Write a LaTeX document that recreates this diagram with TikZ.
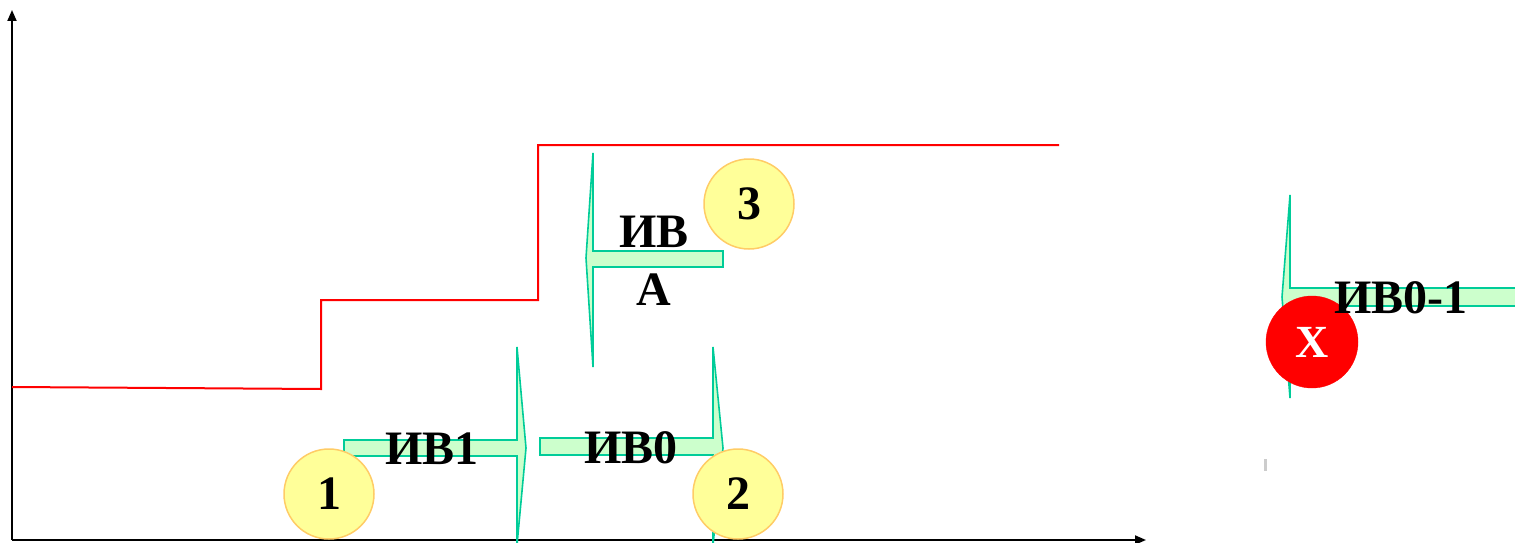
\documentclass[tikz,border=0pt]{standalone}
\usepackage{fontspec}
\setmainfont{Liberation Serif}
\usetikzlibrary{arrows.meta}
\definecolor{arrfill}{HTML}{CCFFCC}
\definecolor{arrline}{HTML}{00CC99}
\definecolor{circfill}{HTML}{FFFF99}
\definecolor{circline}{HTML}{FFCC66}
\definecolor{stepred}{HTML}{FF0000}
\tikzset{
  axisline/.style={line width=2pt,-{Triangle[length=11pt,width=9pt]}},
  redline/.style={draw=stepred,line width=2pt},
  blockarrow/.style={fill=arrfill,draw=arrline,line width=1.6pt,line join=miter},
  lbl/.style={font=\fontsize{48}{50}\selectfont\bfseries,inner sep=0pt},
  numcirc/.style={circle,fill=circfill,draw=circline,line width=1.5pt,minimum size=90pt,inner sep=0pt,font=\fontsize{48}{50}\selectfont\bfseries},
  xcirc/.style={circle,fill=stepred,draw=stepred,minimum size=92pt,inner sep=0pt,text=white,font=\fontsize{46}{50}\selectfont\bfseries}
}
\begin{document}
\begin{tikzpicture}[x=1pt,y=-1pt]
\useasboundingbox (0,0) rectangle (1515,543);
\clip (0,0) rectangle (1515,543);
% axes
\coordinate (o) at (12,540);
\coordinate (ytip) at (12,10);
\coordinate (xtip) at (1146,540);
\draw[axisline] (o) -- (ytip);
\draw[axisline] (o) -- (xtip);
% red step line
\draw[redline] (12,387) -- (321,389) -- (321,300) -- (538,300) -- (538,145) -- (1059,145);
% block arrows
\draw[blockarrow] (344,440) -- (517,440) -- (517,347) -- (526,448) -- (517,545) -- (517,456) -- (344,456) -- cycle;
\draw[blockarrow] (540,438) -- (713,438) -- (713,347) -- (723,448) -- (713,545) -- (713,455) -- (540,455) -- cycle;
\draw[blockarrow] (723,251) -- (593,251) -- (593,153) -- (586,258) -- (593,367) -- (593,267) -- (723,267) -- cycle;
\draw[blockarrow] (1530,288) -- (1290,288) -- (1290,195) -- (1282,297) -- (1290,398) -- (1290,306) -- (1530,306) -- cycle;
% gray tick
\draw[gray!40,line width=3pt] (1265,459) -- (1265,471);
% circles
\node[numcirc] (c1) at (329,494) {1};
\node[numcirc] (c2) at (738,494) {2};
\node[numcirc] (c3) at (749,204) {3};
\node[xcirc] (cx) at (1312,342) {X};
% labels
\node[lbl] (l1) at (432,449) {ИВ1};
\node[lbl] (l0) at (631,448) {ИВ0};
\node[lbl] (la1) at (654,232) {ИВ};
\node[lbl] (la2) at (654,290) {А};
\node[lbl] (l01) at (1401,298) {ИВ0-1};
\end{tikzpicture}
\end{document}
